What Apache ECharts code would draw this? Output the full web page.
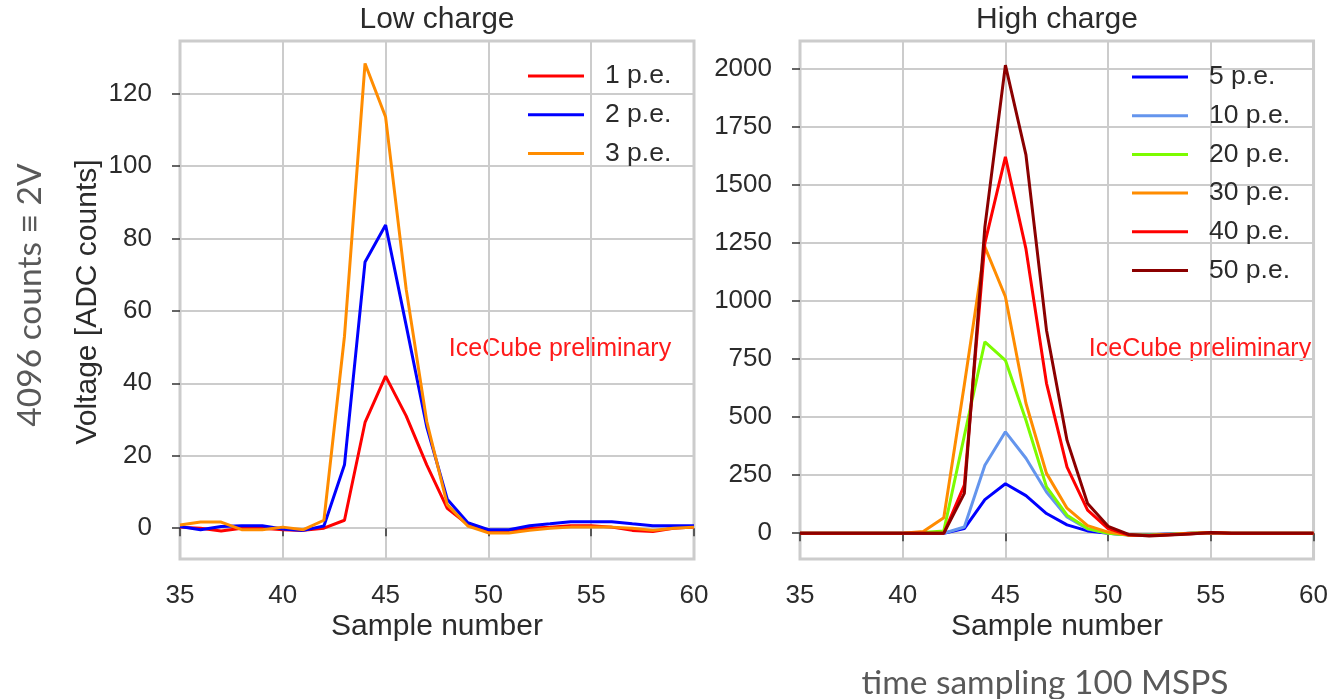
<!DOCTYPE html>
<html>
<head>
<meta charset="utf-8">
<title>Low charge / High charge</title>
<style>
    html,body{margin:0;padding:0;background:#ffffff;}
    #chart{width:1331px;height:699px;}
</style>
</head>
<body>
<div id="chart"></div>
<script src="https://cdn.jsdelivr.net/npm/echarts@6/dist/echarts.min.js"></script>
<script>
    // sample numbers (x) shared by both panels
    var samples = [35,36,37,38,39,40,41,42,43,44,45,46,47,48,49,50,51,52,53,54,55,56,57,58,59,60];

    // low charge panel
    var lowNames = ['1 p.e.', '2 p.e.', '3 p.e.'];
    var lowColors = ['#ff0000', '#0000ff', '#ff8c00'];
    var pe1 = [0.3,0,-0.8,0,0,-0.4,-0.6,0,2.2,29.2,42,31,17.5,5.5,1,-0.6,-0.6,0,0.3,0.7,0.7,0.3,-0.6,-0.9,0,0.3];
    var pe2 = [0.5,-0.4,0.5,0.7,0.7,-0.2,-0.6,0.6,17.5,73.5,83.7,56,28,8,1.5,-0.4,-0.4,0.7,1.2,1.8,1.8,1.8,1.2,0.7,0.7,0.7];
    var pe3 = [0.9,1.7,1.7,-0.4,-0.4,0.3,-0.4,2.2,53,128.3,113.5,66,29.5,6.5,0.6,-1.3,-1.3,-0.6,0,0.3,0.3,0.3,0,-0.6,0,0.3];
    var lowTicks = [0,20,40,60,80,100,120];

    // high charge panel
    var highNames = ['5 p.e.', '10 p.e.', '20 p.e.', '30 p.e.', '40 p.e.', '50 p.e.'];
    var highColors = ['#0000ff', '#6495ed', '#7cfc00', '#ff8c00', '#ff0000', '#8b0000'];
    var pe5  = [0,0,0,0,0,0,0,0,20,145,213,162,85,36,10,0,-6,-6,-3,0,2,0,0,0,0,0];
    var pe10 = [0,0,0,0,0,0,0,0,27,293,437,323,178,70,18,0,-8,-8,-4,0,2,0,0,0,0,0];
    var pe20 = [0,0,0,0,0,0,3,10,420,825,745,487,200,78,20,0,-8,-8,-4,0,2,0,0,0,0,0];
    var pe30 = [0,0,0,0,0,0,8,67,640,1234,1019,560,258,108,33,5,-8,-10,-5,0,3,0,0,0,0,0];
    var pe40 = [0,0,0,0,0,0,0,0,207,1250,1622,1225,646,285,100,20,-8,-10,-6,-2,2,0,0,0,0,0];
    var pe50 = [0,0,0,0,0,0,0,0,172,1320,2017,1630,875,400,128,30,-5,-12,-8,-3,3,0,0,0,0,0];
    var highTicks = [0,250,500,750,1000,1250,1500,1750,2000];

    var textColor = '#2b2b2b';
    var gridColor = '#cccccc';
    var font = '"Liberation Sans", Arial, sans-serif';
    var slideFont = 'Lato, "Open Sans", sans-serif';

    function pairs(vals){
        var out = [];
        for(var i=0;i<samples.length;i++){
            out.push([samples[i], vals[i]]);
        }
        return out;
    }

    function makeSeries(names, colors, sets, idx){
        var list = [];
        for(var i=0;i<names.length;i++){
            list.push({
                name: names[i],
                type: 'line',
                xAxisIndex: idx,
                yAxisIndex: idx,
                symbol: 'none',
                data: pairs(sets[i]),
                lineStyle: {color: colors[i], width: 3},
                itemStyle: {color: colors[i]},
                animation: false
            });
        }
        return list;
    }

    function plain(v){
        return String(v);
    }

    function xAxisOf(idx){
        return {
            type: 'value',
            gridIndex: idx,
            min: 35,
            max: 60,
            interval: 5,
            axisLine: {show: false},
            axisTick: {show: true, length: 8, lineStyle: {color: '#333333', width: 1.5}},
            axisLabel: {fontSize: 26, color: textColor, fontFamily: font, margin: 24, formatter: plain},
            splitLine: {show: true, lineStyle: {color: gridColor, width: 2}}
        };
    }

    function yAxisOf(idx, min, max, ticks){
        return {
            type: 'value',
            gridIndex: idx,
            min: min,
            max: max,
            axisLine: {show: false},
            axisTick: {show: true, length: 8, customValues: ticks, lineStyle: {color: '#333333', width: 1.5}},
            axisLabel: {fontSize: 26, color: textColor, fontFamily: font, margin: 28, customValues: ticks, formatter: plain},
            splitLine: {show: true, lineStyle: {color: gridColor, width: 2}}
        };
    }

    function legendOf(names, colors, left, top){
        var items = [];
        for(var i=0;i<names.length;i++){
            items.push({name: names[i], itemStyle: {color: colors[i]}});
        }
        return {
            data: items,
            orient: 'vertical',
            left: left,
            top: top,
            padding: 0,
            icon: 'rect',
            itemWidth: 56,
            itemHeight: 3,
            itemGap: 8.7,
            selectedMode: false,
            textStyle: {fontSize: 26.5, lineHeight: 30, color: textColor, fontFamily: font, padding: [0,0,0,16]}
        };
    }

    function label(text, x, y, size, color, fam, rot){
        return {
            type: 'text',
            x: x,
            y: y,
            rotation: rot || 0,
            style: {
                text: text,
                fill: color,
                font: size + 'px ' + fam,
                align: 'center',
                verticalAlign: 'middle'
            }
        };
    }

    var myChart = echarts.init(document.getElementById('chart'), null, {renderer: 'canvas'});
    var option = {
        backgroundColor: '#ffffff',
        animation: false,
        grid: [
            {left: 180, top: 41, width: 514, height: 518, show: true, borderColor: gridColor, borderWidth: 3, backgroundColor: '#ffffff'},
            {left: 800, top: 41, width: 515, height: 518, show: true, borderColor: gridColor, borderWidth: 3, backgroundColor: '#ffffff'}
        ],
        xAxis: [xAxisOf(0), xAxisOf(1)],
        yAxis: [yAxisOf(0, -8.5, 134.5, lowTicks), yAxisOf(1, -111, 2121, highTicks)],
        legend: [legendOf(lowNames, lowColors, 528, 61), legendOf(highNames, highColors, 1132, 62)],
        series: makeSeries(lowNames, lowColors, [pe1, pe2, pe3], 0)
            .concat(makeSeries(highNames, highColors, [pe5, pe10, pe20, pe30, pe40, pe50], 1)),
        graphic: [
            label('Low charge', 437, 20, 30, textColor, font),
            label('High charge', 1057, 20, 30, textColor, font),
            label('Sample number', 437, 627, 30, textColor, font),
            label('Sample number', 1057, 627, 30, textColor, font),
            label('Voltage [ADC counts]', 88, 302, 30, textColor, font, Math.PI / 2),
            label('IceCube preliminary', 560, 349, 25, '#ff1a1a', font),
            label('IceCube preliminary', 1200, 349, 25, '#ff1a1a', font),
            label('4096 counts \u2261 2V', 30, 295, 33.5, '#595959', slideFont, Math.PI / 2),
            label('time sampling 100 MSPS', 1045, 683, 33.5, '#595959', slideFont)
        ]
    };
    myChart.setOption(option);
</script>
</body>
</html>
